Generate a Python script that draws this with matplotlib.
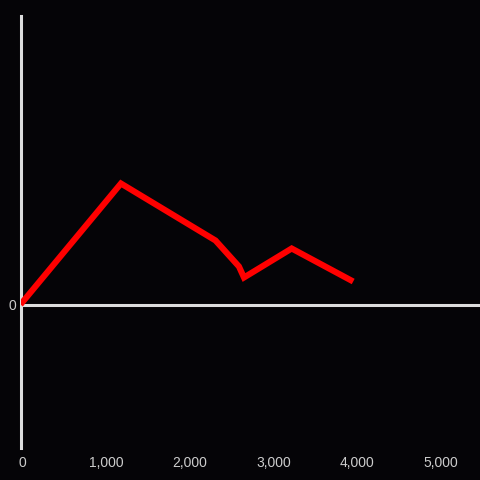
import matplotlib.pyplot as plt
import matplotlib.transforms as mtransforms

# values
x_vals = [0, 1200, 2330, 2610, 2670, 3240, 3975]
y_vals = [0, 121, 64, 38, 27, 56, 23]
x_ticks = [0, 1000, 2000, 3000, 4000, 5000]
x_labels = ["0", "1,000", "2,000", "3,000", "4,000", "5,000"]

bg = "#050407"
axis_col = "#dddddd"
text_col = "#cccccc"

plt.rcParams["font.family"] = ["Liberation Sans", "DejaVu Sans"]

fig = plt.figure(figsize=(4.8, 4.8), dpi=100, facecolor=bg)
ax = fig.add_axes([20.5 / 480, 32 / 480, 459.5 / 480, 432 / 480])
ax.set_facecolor(bg)

ax.plot(x_vals, y_vals, color="#ff0000", linewidth=4.4,
        solid_joinstyle="miter", solid_capstyle="butt", zorder=3)

# zero line and y axis
ax.axhline(0, color=axis_col, linewidth=2.2, zorder=2)
for side in ["top", "right", "bottom"]:
    ax.spines[side].set_visible(False)
ax.spines["left"].set_color(axis_col)
ax.spines["left"].set_linewidth(2.2)

ax.set_xlim(0, 5490)
ax.set_ylim(-143.5, 288.5)

ax.set_xticks(x_ticks)
ax.set_xticklabels(x_labels)
ax.set_yticks([0])
ax.set_yticklabels(["0"])
ax.tick_params(axis="both", length=0, colors=text_col, labelsize=10)
ax.tick_params(axis="x", pad=6)
ax.tick_params(axis="y", pad=3)

# nudge x labels slightly right like the reference
shift = mtransforms.ScaledTranslation(2 / 100, 0, fig.dpi_scale_trans)
for lbl in ax.get_xticklabels():
    lbl.set_transform(lbl.get_transform() + shift)

fig.savefig("out.png", dpi=100, facecolor=bg)
